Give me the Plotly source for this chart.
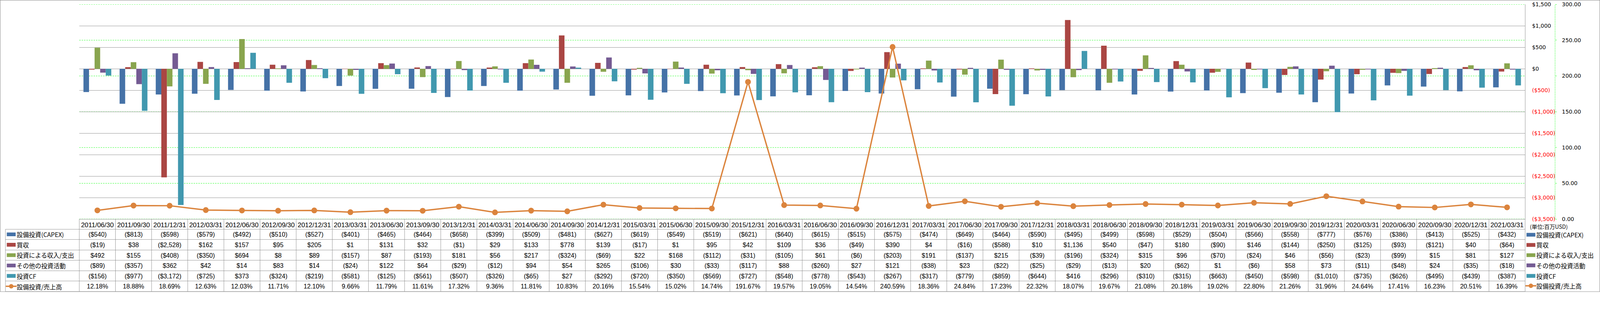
import plotly.graph_objects as go

# ---------------- data ----------------
dates = ["2011/06/30", "2011/09/30", "2011/12/31", "2012/03/31", "2012/06/30", "2012/09/30",
         "2012/12/31", "2013/03/31", "2013/06/30", "2013/09/30", "2013/12/31", "2014/03/31",
         "2014/06/30", "2014/09/30", "2014/12/31", "2015/03/31", "2015/06/30", "2015/09/30",
         "2015/12/31", "2016/03/31", "2016/06/30", "2016/09/30", "2016/12/31", "2017/03/31",
         "2017/06/30", "2017/09/30", "2017/12/31", "2018/03/31", "2018/06/30", "2018/09/30",
         "2018/12/31", "2019/03/31", "2019/06/30", "2019/09/30", "2019/12/31", "2020/03/31",
         "2020/06/30", "2020/09/30", "2020/12/31", "2021/03/31"]

capex = [-540, -813, -598, -579, -492, -510, -527, -401, -465, -464, -658, -399, -509, -481,
         -627, -619, -549, -519, -621, -640, -615, -515, -575, -474, -649, -464, -590, -495,
         -499, -598, -529, -504, -566, -558, -777, -576, -386, -413, -525, -432]
acquisitions = [-19, 38, -2528, 162, 157, 95, 205, 1, 131, 32, -1, 29, 133, 778, 139, -17, 1,
                95, 42, 109, 36, -49, 390, 4, -16, -588, 10, 1136, 540, -47, 180, -90, 146,
                -144, -250, -125, -93, -121, 40, -64]
investments = [492, 155, -408, -350, 694, 8, 89, -157, 87, -193, 181, 56, 217, -324, -69, 22,
               168, -112, -31, -105, 61, -6, -203, 191, -137, 215, -39, -196, -324, 315, 96,
               -70, -24, 46, -56, -23, -99, 15, 81, 127]
other_inv = [-89, -357, 362, 42, 14, 83, 14, -24, 122, 64, -29, -12, 94, 54, 265, -106, 30,
             -33, -117, 88, -260, 27, 121, -38, 23, -22, -25, -29, -13, 20, -62, 1, -6, 58,
             73, -11, -48, 24, -35, -18]
invest_cf = [-156, -977, -3172, -725, 373, -324, -219, -581, -125, -561, -507, -326, -65, 27,
             -292, -720, -350, -569, -727, -548, -778, -543, -267, -317, -779, -859, -644,
             416, -296, -310, -315, -663, -450, -598, -1010, -735, -626, -495, -439, -387]
capex_ratio = [12.18, 18.88, 18.69, 12.63, 12.03, 11.71, 12.10, 9.66, 11.79, 11.61, 17.32,
               9.36, 11.81, 10.83, 20.16, 15.54, 15.02, 14.74, 191.67, 19.57, 19.05, 14.54,
               240.59, 18.36, 24.84, 17.23, 22.32, 18.07, 19.67, 21.08, 20.18, 19.02, 22.80,
               21.26, 31.96, 24.64, 17.41, 16.23, 20.51, 16.39]

bar_names = ["設備投資(CAPEX)", "買収", "投資による収入/支出", "その他の投資活動", "投資CF"]
bar_series = [capex, acquisitions, investments, other_inv, invest_cf]
line_name = "設備投資/売上高"
unit_label = "(単位:百万USD)"

y1_min, y1_max, y1_step = -3500, 1500, 500
y2_min, y2_max, y2_step = 0, 300, 50

# ---------------- style ----------------
bar_colors = ["#4572A7", "#AA4643", "#89A54E", "#745B93", "#4198AF"]
line_color = "#DB843D"
grid_color = "#868686"
green = "#00FF00"
neg_color = "#FF0000"

W, H = 4701, 858
L, R, T, B = 233, 4481, 13, 644      # plot area (px)
X2 = 4569                             # secondary axis line (px)
PW, PH = X2 - L, B - T

def fx(x):
    return (x - L) / PW

def fy(y):
    return (B - y) / PH

row_lines = [674, 704, 735, 765, 796, 826, 857]
table_left = 16
row_centers = [(row_lines[i] + row_lines[i + 1]) / 2 for i in range(len(row_lines) - 1)]
legend_rows = [690, 720, 750, 780, 811, 840]

cell_font = dict(family="Liberation Sans", size=18.5, color="black")
jp_font = dict(family="Noto Sans CJK JP", size=18, color="black")
axis_font = dict(family="DejaVu Sans", size=16, color="black")


def money(v):
    return f"(${abs(v):,})" if v < 0 else f"${v:,}"


def money_tick(v):
    if v < 0:
        return f"<span style='color:{neg_color}'>(${abs(v):,})</span>"
    return f"${v:,}"


# ---------------- figure ----------------
fig = go.Figure()
for name, vals, col in zip(bar_names, bar_series, bar_colors):
    fig.add_trace(go.Bar(x=dates, y=vals, name=name, marker=dict(color=col, line=dict(width=0)),
                         yaxis="y", showlegend=False))

fig.add_trace(go.Scatter(x=dates, y=capex_ratio, name=line_name, mode="lines+markers",
                         line=dict(color=line_color, width=4),
                         marker=dict(color=line_color, size=17), yaxis="y2", showlegend=False))

y1_ticks = list(range(y1_min, y1_max + 1, y1_step))
y2_ticks = list(range(y2_min, y2_max + 1, y2_step))
n = len(dates)

fig.update_layout(
    width=W, height=H, autosize=False,
    paper_bgcolor="white", plot_bgcolor="white",
    margin=dict(l=L, r=W - X2, t=T, b=H - B, pad=0, autoexpand=False),
    barmode="group", bargap=0.23, bargroupgap=0,
    xaxis=dict(type="category", domain=[0, fx(R)], range=[-0.5, n - 0.5], autorange=False,
               showgrid=False, showline=True,
               linecolor=grid_color, linewidth=1, ticks="", tickangle=0,
               tickfont=dict(family="Liberation Sans", size=19.5, color="black"),
               ticklabelstandoff=0),
    yaxis=dict(side="right", anchor="x", range=[y1_min, y1_max], autorange=False,
               tickvals=y1_ticks,
               ticktext=[money_tick(v) for v in y1_ticks], tickfont=axis_font,
               showgrid=True, gridcolor=grid_color, gridwidth=1, zeroline=False,
               showline=True, linecolor=grid_color, linewidth=1, ticks="",
               ticklabelstandoff=16),
    yaxis2=dict(overlaying="y", side="right", anchor="free", position=1,
                range=[y2_min, y2_max], autorange=False, tickvals=y2_ticks,
                tickformat=".2f", ticksuffix="%",
                tickfont=axis_font, showgrid=False, zeroline=False, showline=False,
                ticks="outside", ticklen=4, tickcolor=green, tickwidth=1,
                ticklabelstandoff=12),
)

shapes = []
# secondary gridlines (drawn below the primary grid)
for v in y2_ticks:
    shapes.append(dict(type="line", xref="paper", yref="y2", x0=0, x1=fx(R), y0=v, y1=v,
                       line=dict(color=green, width=1, dash="4px,3px"), layer="below"))
# secondary axis line
shapes.append(dict(type="line", xref="paper", yref="paper", x0=1, x1=1, y0=0, y1=1,
                   line=dict(color=green, width=1, dash="3px,2px")))
# table horizontal lines
for yl in row_lines:
    shapes.append(dict(type="line", xref="paper", yref="paper", x0=fx(table_left), x1=fx(R),
                       y0=fy(yl), y1=fy(yl), line=dict(color=grid_color, width=1)))
# table left border of legend column
shapes.append(dict(type="line", xref="paper", yref="paper", x0=fx(table_left), x1=fx(table_left),
                   y0=fy(row_lines[0]), y1=fy(row_lines[-1]), line=dict(color=grid_color, width=1)))
# column separators (paper coordinates derived from the category slots)
col_w = (R - L) / n
for i in range(n + 1):
    xb = L + i * col_w
    shapes.append(dict(type="line", xref="paper", yref="paper", x0=fx(xb), x1=fx(xb),
                       y0=fy(B), y1=fy(row_lines[-1]), line=dict(color=grid_color, width=1)))
# outer chart border
shapes.append(dict(type="rect", xref="paper", yref="paper", x0=fx(0.5), x1=fx(W - 0.5),
                   y0=fy(H - 0.5), y1=fy(0.5), line=dict(color=grid_color, width=1.2)))

annotations = []
# table cells
table_rows = [[money(v) for v in s] for s in bar_series] + [[f"{v:.2f}%" for v in capex_ratio]]
for r, row in enumerate(table_rows):
    for i, txt in enumerate(row):
        xc = L + (i + 0.5) * col_w
        annotations.append(dict(x=fx(xc), xref="paper", y=fy(row_centers[r]), yref="paper",
                                text=txt, showarrow=False, xanchor="center", yanchor="middle",
                                font=cell_font))


def legend_block(x_sw, x_txt, centers):
    for i, (name, col) in enumerate(zip(bar_names, bar_colors)):
        yc = centers[i]
        shapes.append(dict(type="rect", xref="paper", yref="paper", x0=fx(x_sw), x1=fx(x_sw + 26),
                           y0=fy(yc + 5.5), y1=fy(yc - 5.5), fillcolor=col,
                           line=dict(width=0)))
        annotations.append(dict(x=fx(x_txt), xref="paper", y=fy(yc), yref="paper", text=name,
                                showarrow=False, xanchor="left", yanchor="middle", font=jp_font))
    yc = centers[-1]
    shapes.append(dict(type="line", xref="paper", yref="paper", x0=fx(x_sw - 3), x1=fx(x_sw + 29),
                       y0=fy(yc), y1=fy(yc), line=dict(color=line_color, width=4)))
    shapes.append(dict(type="circle", xref="paper", yref="paper", x0=fx(x_sw + 6.5),
                       x1=fx(x_sw + 19.5), y0=fy(yc + 6.5), y1=fy(yc - 6.5),
                       fillcolor=line_color, line=dict(width=0)))
    annotations.append(dict(x=fx(x_txt), xref="paper", y=fy(yc), yref="paper", text=line_name,
                            showarrow=False, xanchor="left", yanchor="middle", font=jp_font))


legend_block(20, 47, row_centers)
legend_block(4485, 4512, legend_rows)

annotations.append(dict(x=fx(4493), xref="paper", y=fy(665), yref="paper", text=unit_label,
                        showarrow=False, xanchor="left", yanchor="middle",
                        font=dict(family="Noto Sans CJK JP", size=16, color="black")))

fig.update_layout(shapes=shapes, annotations=annotations)

# fit the fixed-size figure into whatever CSS viewport the browser actually provides
fit_script = """
(function(){
  var gd = document.getElementById('{plot_id}');
  document.documentElement.style.margin = '0';
  document.body.style.margin = '0';
  document.documentElement.style.overflow = 'hidden';
  document.body.style.overflow = 'hidden';
  var s = Math.min(window.innerWidth / %d, window.innerHeight / %d);
  if (s > 0 && Math.abs(s - 1) > 0.002) {
    gd.style.transformOrigin = '0 0';
    gd.style.transform = 'scale(' + s + ')';
  }
})();
""" % (W, H)

fig.write_html("out.html", config={"responsive": False, "displayModeBar": False},
               post_script=fit_script)
